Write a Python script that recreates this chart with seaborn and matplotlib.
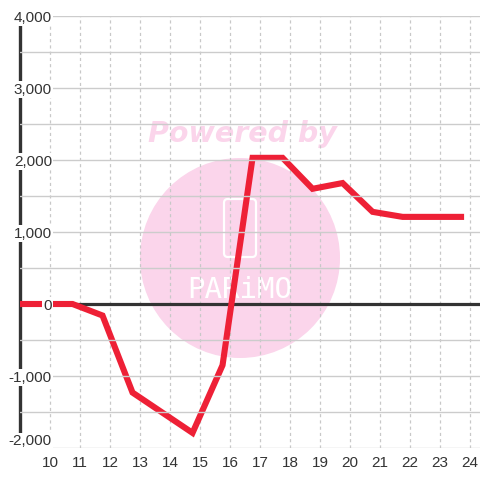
import matplotlib
matplotlib.use("Agg")
import matplotlib.pyplot as plt
from matplotlib.patches import Circle, FancyBboxPatch
import seaborn as sns
import pandas as pd

# values
hours = [9.0, 10.75, 11.75, 12.75, 13.75, 14.75, 15.75, 16.75, 17.75,
         18.75, 19.75, 20.75, 21.75, 22.75, 23.8]
values = [0, 0, -160, -1230, -1510, -1790, -850, 2030, 2030,
          1600, 1680, 1280, 1210, 1210, 1210]
x_ticks = list(range(10, 25))
y_ticks = [-2000, -1000, 0, 1000, 2000, 3000, 4000]

df = pd.DataFrame({"hour": hours, "value": values})

sns.set_style("white")
plt.rcParams["font.family"] = ["Liberation Sans", "DejaVu Sans"]

fig = plt.figure(figsize=(4.8, 4.8), dpi=100)
fig.patch.set_facecolor("white")
ax = fig.add_axes([20/480, 32/480, 460/480, 432/480])
ax.set_facecolor("none")

# watermark behind the axes
pink = "#fbd5eb"
fig.add_artist(Circle((240/480, 1 - 258/480), 100/480, transform=fig.transFigure,
                      facecolor=pink, edgecolor="none", zorder=-2))
fig.text(242/480, 1 - 134/480, "Powered by", color=pink, fontsize=20.5,
         fontweight="heavy", fontstyle="italic", family="DejaVu Sans",
         ha="center", va="center", zorder=-2)
fig.add_artist(FancyBboxPatch((224/480, 1 - 257/480), 32/480, 58/480,
                              boxstyle="round,pad=0,rounding_size=0.008",
                              transform=fig.transFigure, facecolor="none",
                              edgecolor="white", lw=1.6, zorder=-1))
logo = fig.text(240/480, 1 - 290/480, "PARiMO", color="white", fontsize=21,
                family="DejaVu Sans Mono", fontweight="light",
                ha="center", va="center", zorder=-1)
logo.set_fontstretch("condensed")

sns.lineplot(data=df, x="hour", y="value", ax=ax, color="#ee2036", lw=4.4,
             zorder=4, solid_joinstyle="miter", solid_capstyle="butt")
ax.axhline(0, color="#333333", lw=2.3, zorder=3.5)

ax.set_xlim(9, 24.33)
ax.set_ylim(-2000, 4000)
ax.set_xticks(x_ticks, labels=[str(h) for h in x_ticks])
ax.set_yticks(y_ticks, labels=[f"{v:,}" for v in y_ticks])
ax.set_yticks([-1500, -500, 500, 1500, 2500, 3500], minor=True)
ax.set_xlabel("")
ax.set_ylabel("")

ax.grid(axis="y", which="both", color="#cccccc", lw=1)
ax.grid(axis="x", which="major", color="#c8c8c8", lw=0.9, ls=(0, (2.5, 2.5)))
ax.set_axisbelow(True)
for gl, t in zip(ax.yaxis.get_gridlines(), y_ticks):
    if t == 0:
        gl.set_visible(False)

for s in ["top", "right", "bottom"]:
    ax.spines[s].set_visible(False)
ax.spines["left"].set_color("#333333")
ax.spines["left"].set_linewidth(2.4)
ax.spines["left"].set_zorder(2)
ax.spines["left"].set_bounds(-1900, 4000)

ax.tick_params(axis="both", which="both", length=0, labelsize=11, labelcolor="#333333")
ax.tick_params(axis="y", pad=-23)
ax.tick_params(axis="x", pad=6)
ax.yaxis.set_zorder(5)
for lbl, t in zip(ax.get_yticklabels(), y_ticks):
    lbl.set_bbox(dict(facecolor="white", edgecolor="none", pad=1))
    if t == y_ticks[0]:
        lbl.set_verticalalignment("bottom")

fig.savefig("out.png", dpi=100)
